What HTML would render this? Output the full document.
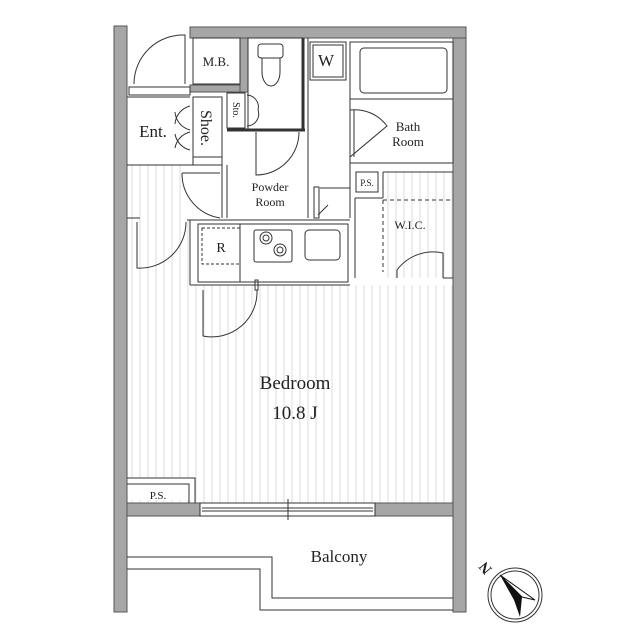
<!DOCTYPE html><html><head><style>body{margin:0;background:#fff}svg{display:block}text{font-family:"Liberation Serif",serif;fill:#222}</style></head><body>
<svg width="640" height="640" viewBox="0 0 640 640" xmlns="http://www.w3.org/2000/svg">
<defs><pattern id="st" width="8" height="10" patternUnits="userSpaceOnUse"><line x1="4" y1="0" x2="4" y2="10" stroke="#dedede" stroke-width="1"/></pattern></defs>
<rect x="127" y="165" width="60" height="55" fill="url(#st)"/>
<rect x="127" y="220" width="63" height="283" fill="url(#st)"/>
<rect x="190" y="285" width="263" height="218" fill="url(#st)"/>
<rect x="383" y="172" width="70" height="106" fill="url(#st)"/>
<rect x="127" y="478" width="64" height="22" fill="#fff"/>
<g fill="#a6a6a6" stroke="#555" stroke-width="1">
<rect x="114" y="26" width="13" height="586"/>
<rect x="453" y="27" width="13" height="585"/>
<rect x="190" y="27" width="276" height="11"/>
<rect x="190" y="85" width="58" height="7"/>
<rect x="240" y="38" width="8" height="54"/>
<rect x="127" y="503" width="73" height="13"/>
<rect x="375" y="503" width="78" height="13"/>
</g>
<g fill="none" stroke="#333" stroke-width="1">
<rect x="193" y="38" width="47" height="46"/>
<path d="M185 84 V35 A49 49 0 0 0 134 84"/>
<rect x="129" y="87" width="61" height="8"/>
<line x1="127" y1="97" x2="190" y2="97"/>
<rect x="193" y="97" width="29" height="60"/>
<path d="M190 106 A20 20 0 0 0 175 124 M190 130 A20 20 0 0 1 175 112"/>
<path d="M190 132 A20 20 0 0 0 175 148 M190 150 A20 20 0 0 1 175 134"/>
<line x1="127" y1="165" x2="193" y2="165"/>
<line x1="193" y1="157" x2="193" y2="165"/>
<line x1="193" y1="165" x2="222" y2="165"/>
<line x1="222" y1="157" x2="222" y2="218"/>
<line x1="227" y1="165" x2="227" y2="218"/>
<rect x="227" y="93" width="18" height="35"/>
<path d="M247 95 A12 12 0 0 1 258 110 M247 126 A12 12 0 0 0 258 110"/>
<rect x="248" y="38" width="54" height="92"/>
<rect x="258" y="44" width="25" height="14" rx="3"/>
<path d="M262 58 H280 V72 A9 14 0 0 1 262 72 Z"/>
<line x1="227" y1="130" x2="305" y2="130" stroke-width="3"/>
<line x1="303" y1="38" x2="303" y2="130" stroke-width="3"/>
<path d="M256 132 V175 A43 43 0 0 0 299 132"/>
<path d="M182 173 A45 45 0 0 0 220 218 M182 173 H220"/>
<rect x="310" y="42" width="36" height="38"/><rect x="313" y="45" width="30" height="32"/>
<line x1="308" y1="38" x2="308" y2="218"/>
<rect x="350" y="42" width="103" height="121"/>
<rect x="360" y="48" width="87" height="45" rx="4"/>
<line x1="350" y1="99" x2="453" y2="99"/>
<path d="M350 110 V157 L387 126 A40 40 0 0 0 350 110"/>
<line x1="354" y1="110" x2="354" y2="157"/>
<rect x="356" y="172" width="22" height="20"/>
<line x1="350" y1="163" x2="350" y2="218"/>
<line x1="355" y1="198" x2="355" y2="278"/>
<line x1="355" y1="198" x2="383" y2="198"/>
<line x1="383" y1="172" x2="453" y2="172"/>
<line x1="383" y1="172" x2="383" y2="198"/>
<line x1="383" y1="200" x2="383" y2="272" stroke-dasharray="4 3"/>
<line x1="383" y1="200" x2="453" y2="200" stroke-dasharray="4 3"/>
<path d="M397 278 V270 A45 45 0 0 1 443 253 V278"/>
<line x1="443" y1="278" x2="453" y2="278"/>
<rect x="314" y="187" width="5" height="31"/>
<line x1="320" y1="188" x2="350" y2="188"/>
<line x1="318" y1="215" x2="328" y2="205"/>
<line x1="187" y1="220" x2="350" y2="220"/>
<rect x="198" y="224" width="150" height="58"/>
<line x1="190" y1="285" x2="350" y2="285"/>
<line x1="190" y1="220" x2="190" y2="285"/>
<rect x="202" y="228" width="38" height="36" stroke-dasharray="3 2"/>
<line x1="240" y1="224" x2="240" y2="282"/>
<rect x="254" y="230" width="38" height="32" rx="2"/>
<circle cx="266" cy="238" r="6"/><circle cx="266" cy="238" r="3"/>
<circle cx="280" cy="250" r="6"/><circle cx="280" cy="250" r="3"/>
<rect x="305" y="230" width="35" height="30" rx="4"/>
<rect x="255" y="280" width="3" height="10"/>
<path d="M257 290 A45 45 0 0 1 203 336 V290"/>
<path d="M137 222 V268 A46 46 0 0 0 186 222"/>
<line x1="127" y1="218" x2="140" y2="218"/>
<path d="M127 478 H195 V503 M127 484 H189 V503"/>
<rect x="200" y="503" width="175" height="13"/>
<line x1="202" y1="508" x2="373" y2="508"/><line x1="202" y1="511" x2="373" y2="511"/>
<line x1="288" y1="499" x2="288" y2="520"/>
<path d="M127 557 H272 V598 H453 M127 569 H260 V610 H453"/>
<circle cx="515" cy="595" r="27"/><circle cx="515" cy="595" r="24"/>
</g>
<polygon points="500,575 522,597 520,617 514,600" fill="#111"/>
<polygon points="500,575 535,600 522,597" fill="#fff" stroke="#111" stroke-width="1"/>
<text x="0" y="0" font-size="15" font-weight="bold" text-anchor="middle" transform="translate(489 565) rotate(-130)">N</text>
<text x="216" y="66" font-size="13" text-anchor="middle">M.B.</text>
<text x="326" y="66" font-size="17" text-anchor="middle">W</text>
<text x="153" y="137" font-size="17" text-anchor="middle">Ent.</text>
<text x="0" y="0" font-size="16" text-anchor="middle" transform="translate(201 128) rotate(90)">Shoe.</text>
<text x="0" y="0" font-size="10" text-anchor="middle" transform="translate(233 110) rotate(90)">Sto.</text>
<text x="408" y="131" font-size="13" text-anchor="middle">Bath</text>
<text x="408" y="146" font-size="13" text-anchor="middle">Room</text>
<text x="270" y="191" font-size="12" text-anchor="middle">Powder</text>
<text x="270" y="206" font-size="12" text-anchor="middle">Room</text>
<text x="367" y="186" font-size="9" text-anchor="middle">P.S.</text>
<text x="410" y="229" font-size="12" text-anchor="middle">W.I.C.</text>
<text x="221" y="252" font-size="14" text-anchor="middle">R</text>
<text x="295" y="389" font-size="19" text-anchor="middle">Bedroom</text>
<text x="295" y="419" font-size="19" text-anchor="middle">10.8 J</text>
<text x="158" y="499" font-size="11" text-anchor="middle">P.S.</text>
<text x="339" y="562" font-size="17" text-anchor="middle">Balcony</text>
</svg></body></html>
